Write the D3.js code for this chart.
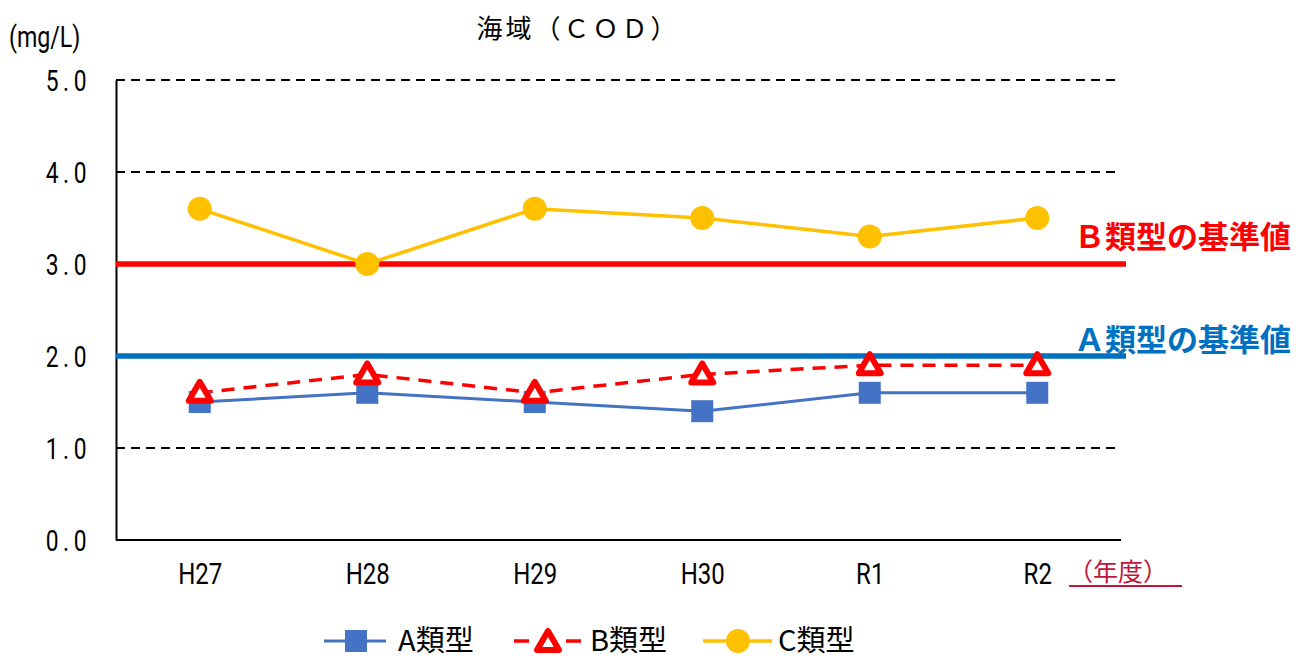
<!DOCTYPE html>
<html>
<head>
<meta charset="utf-8">
<script src="https://cdn.jsdelivr.net/npm/d3@7"></script>
<style>
  body { margin: 0; background: #fff; }
  svg { display: block; }
  .narrow { font-family: Roboto, 'DejaVu Sans', sans-serif; }
  .jp { font-family: 'Noto Sans CJK JP', sans-serif; }
</style>
</head>
<body>
<div id="chart"></div>
<script>
// ---- data ----
const years = ['H27', 'H28', 'H29', 'H30', 'R1', 'R2'];
const typeA = [1.5, 1.6, 1.5, 1.4, 1.6, 1.6];
const typeB = [1.6, 1.8, 1.6, 1.8, 1.9, 1.9];
const typeC = [3.6, 3.0, 3.6, 3.5, 3.3, 3.5];
const yTicks = [0, 1, 2, 3, 4, 5];
const stdLabels = ['Ｂ類型の基準値', 'Ａ類型の基準値'];
const stdValues = [3.0, 2.0];
const stdColors = ['#FF0000', '#0070C0'];
const stdLabelRise = [27, 16];   // how far each label sits above its line

const W = 1316, H = 660;
const plotLeft = 116, plotRight = 1121, plotTop = 80, plotBottom = 540;

const svg = d3.select('#chart').append('svg')
  .attr('width', W).attr('height', H);

const x = d3.scalePoint().domain(years).range([plotLeft, plotRight]).padding(0.5);
const y = d3.scaleLinear().domain([0, 5]).range([plotBottom, plotTop]);

// squeeze Latin text horizontally (the source uses a condensed gothic face)
function squeeze(sel, sx) {
  sel.each(function () {
    const t = d3.select(this);
    const x0 = +t.attr('x') || 0;
    t.attr('x', x0 / sx).attr('transform', `scale(${sx},1)`);
  });
}

// dashed gridlines
svg.append('g').selectAll('line')
  .data(yTicks.filter(d => d > 0))
  .join('line')
  .attr('x1', plotLeft).attr('x2', 1115)
  .attr('y1', d => y(d)).attr('y2', d => y(d))
  .attr('stroke', '#000').attr('stroke-width', 2.2)
  .attr('stroke-dasharray', '9,6');

// axes
const yAxis = svg.append('g')
  .attr('transform', `translate(${plotLeft},0)`)
  .call(d3.axisLeft(y).tickValues(yTicks).tickFormat(d3.format('.1f')).tickSize(0).tickPadding(25));
yAxis.select('.domain').attr('stroke', '#000').attr('stroke-width', 2);
yAxis.selectAll('text')
  .attr('class', 'narrow')
  .attr('font-size', 30).attr('fill', '#000')
  .attr('letter-spacing', 6)
  .attr('dy', '0.36em')
  .call(squeeze, 0.76);

svg.append('line')
  .attr('x1', plotLeft).attr('x2', plotRight)
  .attr('y1', plotBottom).attr('y2', plotBottom)
  .attr('stroke', '#000').attr('stroke-width', 2);

const xAxis = svg.append('g')
  .attr('transform', `translate(0,${plotBottom})`)
  .call(d3.axisBottom(x).tickSize(0).tickPadding(23));
xAxis.select('.domain').remove();
xAxis.selectAll('text')
  .attr('class', 'narrow')
  .attr('font-size', 30).attr('fill', '#000')
  .attr('dy', '0.71em')
  .attr('transform', 'scale(0.8,1)');

// standard lines
svg.append('g').selectAll('line')
  .data(stdValues)
  .join('line')
  .attr('x1', plotLeft).attr('x2', 1126)
  .attr('y1', d => y(d)).attr('y2', d => y(d))
  .attr('stroke', (d, i) => stdColors[i]).attr('stroke-width', 5.5);

svg.append('g').selectAll('text')
  .data(stdValues)
  .join('text')
  .attr('class', 'jp')
  .attr('x', 1074)
  .attr('y', (d, i) => y(d) - stdLabelRise[i])
  .attr('dy', '0.36em')
  .attr('font-size', 31).attr('font-weight', 'bold')
  .attr('fill', (d, i) => stdColors[i])
  .text((d, i) => stdLabels[i]);

// series
const line = d3.line().x((d, i) => x(years[i])).y(d => y(d));

svg.append('path').datum(typeA)
  .attr('d', line).attr('fill', 'none')
  .attr('stroke', '#4472C4').attr('stroke-width', 3);
svg.append('path').datum(typeB)
  .attr('d', line).attr('fill', 'none')
  .attr('stroke', '#FF0000').attr('stroke-width', 3.5)
  .attr('stroke-dasharray', '13,9');
svg.append('path').datum(typeC)
  .attr('d', line).attr('fill', 'none')
  .attr('stroke', '#FFC000').attr('stroke-width', 3.5);

const sq = 22;
const triPath = 'M0,-11L11,8L-11,8Z';

svg.append('g').selectAll('rect')
  .data(typeA).join('rect')
  .attr('x', (d, i) => x(years[i]) - sq / 2)
  .attr('y', d => y(d) - sq / 2)
  .attr('width', sq).attr('height', sq)
  .attr('fill', '#4472C4');

svg.append('g').selectAll('path')
  .data(typeB).join('path')
  .attr('d', triPath)
  .attr('transform', (d, i) => `translate(${x(years[i])},${y(d)})`)
  .attr('fill', '#fff').attr('stroke', '#FF0000')
  .attr('stroke-width', 6).attr('stroke-linejoin', 'round');

svg.append('g').selectAll('circle')
  .data(typeC).join('circle')
  .attr('cx', (d, i) => x(years[i]))
  .attr('cy', d => y(d))
  .attr('r', 12)
  .attr('fill', '#FFC000');

// title and units
svg.append('text').attr('class', 'jp')
  .attr('x', 578).attr('y', 38)
  .attr('text-anchor', 'middle')
  .attr('font-size', 26).attr('letter-spacing', 3)
  .attr('fill', '#000')
  .text('海域（ＣＯＤ）');

svg.append('text').attr('class', 'narrow')
  .attr('x', 9).attr('y', 47)
  .attr('font-size', 29).attr('fill', '#000')
  .text('(mg/L)')
  .call(squeeze, 0.8);

svg.append('text').attr('class', 'jp')
  .attr('x', 1068).attr('y', 581)
  .attr('font-size', 25).attr('fill', '#C0143C')
  .text('（年度）');
svg.append('line')
  .attr('x1', 1069).attr('x2', 1182)
  .attr('y1', 586).attr('y2', 586)
  .attr('stroke', '#C0143C').attr('stroke-width', 2);

// legend
const ly = 641;
const legend = svg.append('g');

legend.append('line').attr('x1', 324).attr('x2', 386).attr('y1', ly).attr('y2', ly)
  .attr('stroke', '#4472C4').attr('stroke-width', 3);
legend.append('rect').attr('x', 356 - 11).attr('y', ly - 11).attr('width', 22).attr('height', 22)
  .attr('fill', '#4472C4');
legend.append('text').attr('class', 'jp').attr('x', 398).attr('y', ly).attr('dy', '0.36em')
  .attr('font-size', 29).text('A類型');

legend.append('line').attr('x1', 514).attr('x2', 529).attr('y1', ly).attr('y2', ly)
  .attr('stroke', '#FF0000').attr('stroke-width', 3.5);
legend.append('line').attr('x1', 566).attr('x2', 581).attr('y1', ly).attr('y2', ly)
  .attr('stroke', '#FF0000').attr('stroke-width', 3.5);
legend.append('path').attr('d', triPath)
  .attr('transform', `translate(548,${ly + 1})`)
  .attr('fill', '#fff').attr('stroke', '#FF0000')
  .attr('stroke-width', 6).attr('stroke-linejoin', 'round');
legend.append('text').attr('class', 'jp').attr('x', 590).attr('y', ly).attr('dy', '0.36em')
  .attr('font-size', 29).text('B類型');

legend.append('line').attr('x1', 703).attr('x2', 772).attr('y1', ly).attr('y2', ly)
  .attr('stroke', '#FFC000').attr('stroke-width', 3.5);
legend.append('circle').attr('cx', 738).attr('cy', ly).attr('r', 12)
  .attr('fill', '#FFC000');
legend.append('text').attr('class', 'jp').attr('x', 778).attr('y', ly).attr('dy', '0.36em')
  .attr('font-size', 29).text('C類型');
</script>
</body>
</html>
